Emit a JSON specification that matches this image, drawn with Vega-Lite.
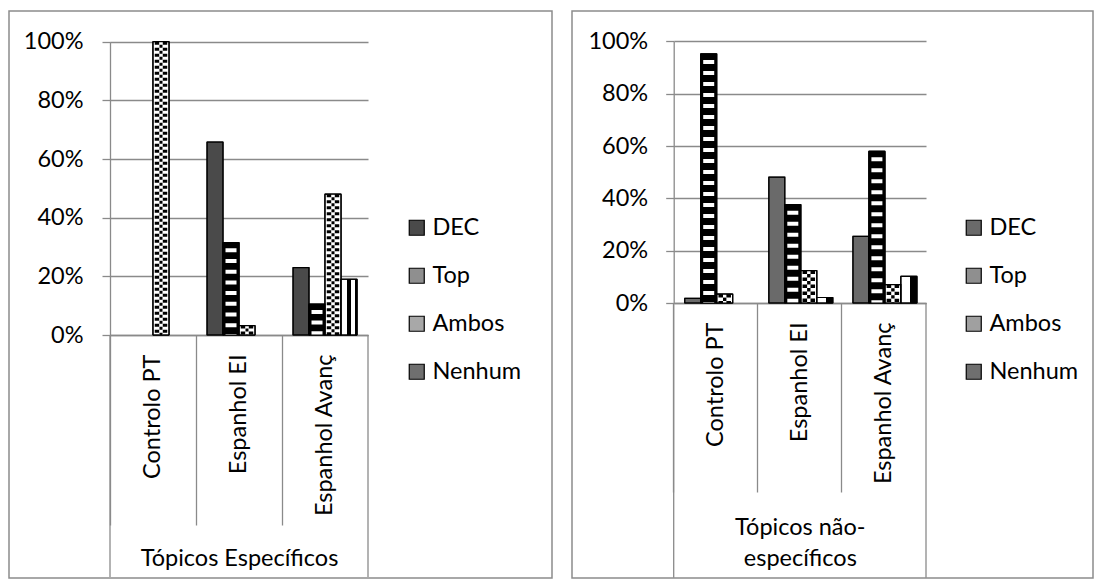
{
  "$schema": "https://vega.github.io/schema/vega-lite/v6.json",
  "background": "white",
  "padding": {"left": 8, "top": 10, "right": 0, "bottom": 0},
  "spacing": 18,
  "resolve": {"scale": {"color": "independent"}, "legend": {"color": "independent"}},
  "config": {
    "font": "Lato",
    "view": {"stroke": "#8c8c8c", "strokeWidth": 1.5}
  },
  "data": {"values": [
    {"panel": "esp", "cat": "Controlo PT", "series": "DEC", "value": 0},
    {"panel": "esp", "cat": "Controlo PT", "series": "Top", "value": 0},
    {"panel": "esp", "cat": "Controlo PT", "series": "Ambos", "value": 1.0},
    {"panel": "esp", "cat": "Controlo PT", "series": "Nenhum", "value": 0},
    {"panel": "esp", "cat": "Espanhol EI", "series": "DEC", "value": 0.658},
    {"panel": "esp", "cat": "Espanhol EI", "series": "Top", "value": 0.315},
    {"panel": "esp", "cat": "Espanhol EI", "series": "Ambos", "value": 0.032},
    {"panel": "esp", "cat": "Espanhol EI", "series": "Nenhum", "value": 0},
    {"panel": "esp", "cat": "Espanhol Avanç", "series": "DEC", "value": 0.23},
    {"panel": "esp", "cat": "Espanhol Avanç", "series": "Top", "value": 0.105},
    {"panel": "esp", "cat": "Espanhol Avanç", "series": "Ambos", "value": 0.48},
    {"panel": "esp", "cat": "Espanhol Avanç", "series": "Nenhum", "value": 0.19},
    {"panel": "nesp", "cat": "Controlo PT", "series": "DEC", "value": 0.018},
    {"panel": "nesp", "cat": "Controlo PT", "series": "Top", "value": 0.952},
    {"panel": "nesp", "cat": "Controlo PT", "series": "Ambos", "value": 0.034},
    {"panel": "nesp", "cat": "Controlo PT", "series": "Nenhum", "value": 0},
    {"panel": "nesp", "cat": "Espanhol EI", "series": "DEC", "value": 0.481},
    {"panel": "nesp", "cat": "Espanhol EI", "series": "Top", "value": 0.376},
    {"panel": "nesp", "cat": "Espanhol EI", "series": "Ambos", "value": 0.124},
    {"panel": "nesp", "cat": "Espanhol EI", "series": "Nenhum", "value": 0.021},
    {"panel": "nesp", "cat": "Espanhol Avanç", "series": "DEC", "value": 0.255},
    {"panel": "nesp", "cat": "Espanhol Avanç", "series": "Top", "value": 0.58},
    {"panel": "nesp", "cat": "Espanhol Avanç", "series": "Ambos", "value": 0.07},
    {"panel": "nesp", "cat": "Espanhol Avanç", "series": "Nenhum", "value": 0.102}
  ]},
  "hconcat": [
    {
      "width": 543,
      "height": 567,
      "transform": [{"filter": "datum.panel === 'esp'"}],
      "encoding": {
        "x": {"field": "cat", "type": "nominal", "sort": ["Controlo PT", "Espanhol EI", "Espanhol Avanç"],
          "scale": {"range": [101, 359], "paddingInner": 0, "paddingOuter": 0},
          "axis": {"orient": "bottom", "offset": -243, "bandPosition": 0, "tickSize": 190, "tickColor": "#8a8a8a", "tickWidth": 1.3,
            "domainColor": "#8a8a8a", "domainWidth": 1.3, "labelAngle": 270, "labelPadding": -171, "labelFontSize": 23.5,
            "labelColor": "black", "labelOverlap": false, "title": "Tópicos Específicos", "titleFontSize": 23.5,
            "titleFontWeight": "normal", "titleColor": "black", "titleY": 223.6, "titleBaseline": "middle", "grid": false}},
        "y": {"field": "value", "type": "quantitative", "stack": null,
          "scale": {"domain": [0, 1], "range": [324, 30.7], "nice": false, "zero": false},
          "axis": {"offset": -101, "values": [0, 0.2, 0.4, 0.6, 0.8, 1], "format": ".0%", "tickSize": 8, "tickColor": "#8a8a8a",
            "tickWidth": 1.3, "domainColor": "#8a8a8a", "domainWidth": 1.3, "gridColor": "#8a8a8a", "gridWidth": 1.3, "grid": true,
            "labelPadding": 19, "labelFontSize": 23.5, "labelColor": "black", "title": null}}
      },
      "layer": [
        {"transform": [{"filter": "datum.value > 0"}],
         "mark": {"type": "bar", "stroke": "black", "strokeWidth": 1},
         "encoding": {
           "xOffset": {"field": "series", "type": "nominal", "sort": ["DEC", "Top", "Ambos", "Nenhum"], "scale": {"domain": ["DEC", "Top", "Ambos", "Nenhum"], "paddingOuter": 0.69, "paddingInner": 0}},
           "color": {"field": "series", "type": "nominal", "scale": {"domain": ["DEC", "Top", "Ambos", "Nenhum"], "range": ["#4a4a4a", "#8f8f8f", "#a8a8a8", "#6f6f6f"]},
             "legend": {"orient": "none", "legendX": 396, "legendY": 205, "title": null, "symbolType": "square", "symbolSize": 225,
               "symbolStrokeColor": "black", "symbolStrokeWidth": 1.2, "labelFontSize": 23.5, "labelColor": "black", "labelOffset": 4, "rowPadding": 23, "padding": 0,
               "encode": {"symbols": {"update": {"stroke": {"value": "black"}, "strokeWidth": {"value": 1.2}}}}}}
         }},
        {"transform": [{"filter": "datum.value > 0 && datum.series === 'Top'"}],
         "mark": {"type": "bar", "fill": "black", "stroke": "black", "strokeWidth": 1},
         "encoding": {"xOffset": {"field": "series", "type": "nominal", "sort": ["DEC", "Top", "Ambos", "Nenhum"]}}},
        {"transform": [{"filter": "datum.value > 0 && datum.series === 'Top'"}],
         "mark": {"type": "rule", "color": "white", "strokeWidth": 11, "strokeDash": [4, 6.7], "strokeDashOffset": 5},
         "encoding": {"xOffset": {"field": "series", "type": "nominal", "sort": ["DEC", "Top", "Ambos", "Nenhum"]}, "y2": {"datum": 0}}},
        {"transform": [{"filter": "datum.value > 0 && datum.series === 'Ambos'"}],
         "mark": {"type": "bar", "fill": "white", "stroke": "black", "strokeWidth": 1},
         "encoding": {"xOffset": {"field": "series", "type": "nominal", "sort": ["DEC", "Top", "Ambos", "Nenhum"]}}},
        {"transform": [{"filter": "datum.value > 0 && datum.series === 'Ambos'"}],
         "mark": {"type": "rule", "color": "black", "strokeWidth": 12.5, "strokeDash": [3, 3]},
         "encoding": {"xOffset": {"field": "series", "type": "nominal", "sort": ["DEC", "Top", "Ambos", "Nenhum"]}, "y2": {"datum": 0}}},
        {"transform": [{"filter": "datum.value > 0 && datum.series === 'Ambos'"}],
         "mark": {"type": "rule", "color": "white", "strokeWidth": 3.6},
         "encoding": {"xOffset": {"field": "series", "type": "nominal", "sort": ["DEC", "Top", "Ambos", "Nenhum"]}, "y2": {"datum": 0}}},
        {"transform": [{"filter": "datum.value > 0 && datum.series === 'Ambos'"}],
         "mark": {"type": "rule", "color": "black", "strokeWidth": 3, "strokeDash": [3, 3], "strokeDashOffset": 3},
         "encoding": {"xOffset": {"field": "series", "type": "nominal", "sort": ["DEC", "Top", "Ambos", "Nenhum"]}, "y2": {"datum": 0}}},
        {"transform": [{"filter": "datum.value > 0 && datum.series === 'Nenhum'"}],
         "mark": {"type": "bar", "stroke": "black", "strokeWidth": 1,
           "fill": {"gradient": "linear", "x1": 0, "y1": 0, "x2": 1, "y2": 0, "stops": [
             {"offset": 0, "color": "white"}, {"offset": 0.36, "color": "white"}, {"offset": 0.36, "color": "black"},
             {"offset": 0.62, "color": "black"}, {"offset": 0.62, "color": "white"}, {"offset": 0.86, "color": "white"},
             {"offset": 0.86, "color": "black"}, {"offset": 1, "color": "black"}]}},
         "encoding": {"xOffset": {"field": "series", "type": "nominal", "sort": ["DEC", "Top", "Ambos", "Nenhum"]}}},
        {"transform": [{"filter": "datum.value > 0"}],
         "mark": {"type": "bar", "filled": false, "stroke": "black", "strokeWidth": 1.2},
         "encoding": {"xOffset": {"field": "series", "type": "nominal", "sort": ["DEC", "Top", "Ambos", "Nenhum"]}}},
        {"transform": [{"filter": "datum.cat === 'Controlo PT' && datum.series === 'DEC'"}],
         "mark": {"type": "rule", "color": "#8a8a8a", "strokeWidth": 1.3},
         "encoding": {"x": {"field": "cat", "type": "nominal", "sort": ["Controlo PT", "Espanhol EI", "Espanhol Avanç"], "bandPosition": 0},
           "y": {"datum": 0}, "y2": {"datum": -0.825}}},
        {"transform": [{"filter": "datum.cat === 'Espanhol Avanç' && datum.series === 'DEC'"}],
         "mark": {"type": "rule", "color": "#8a8a8a", "strokeWidth": 1.3},
         "encoding": {"x": {"field": "cat", "type": "nominal", "sort": ["Controlo PT", "Espanhol EI", "Espanhol Avanç"], "bandPosition": 1},
           "y": {"datum": 0}, "y2": {"datum": -0.825}}}
      ]
    },
    {
      "width": 521,
      "height": 567,
      "transform": [{"filter": "datum.panel === 'nesp'"}],
      "encoding": {
        "x": {"field": "cat", "type": "nominal", "sort": ["Controlo PT", "Espanhol EI", "Espanhol Avanç"],
          "scale": {"range": [101.7, 354], "paddingInner": 0, "paddingOuter": 0},
          "axis": {"orient": "bottom", "offset": -275, "bandPosition": 0, "tickSize": 189, "tickColor": "#8a8a8a", "tickWidth": 1.3,
            "domainColor": "#8a8a8a", "domainWidth": 1.3, "labelAngle": 270, "labelPadding": -170, "labelFontSize": 23.5,
            "labelColor": "black", "labelOverlap": false, "title": ["Tópicos não-", "específicos"], "titleFontSize": 23.5,
            "titleFontWeight": "normal", "titleColor": "black", "titleY": 224, "titleBaseline": "middle", "titleLineHeight": 31.6, "grid": false}},
        "y": {"field": "value", "type": "quantitative", "stack": null,
          "scale": {"domain": [0, 1], "range": [292, 30.4], "nice": false, "zero": false},
          "axis": {"offset": -101.7, "values": [0, 0.2, 0.4, 0.6, 0.8, 1], "format": ".0%", "tickSize": 8, "tickColor": "#8a8a8a",
            "tickWidth": 1.3, "domainColor": "#8a8a8a", "domainWidth": 1.3, "gridColor": "#8a8a8a", "gridWidth": 1.3, "grid": true,
            "labelPadding": 18, "labelFontSize": 23.5, "labelColor": "black", "title": null}}
      },
      "layer": [
        {"transform": [{"filter": "datum.value > 0"}],
         "mark": {"type": "bar", "stroke": "black", "strokeWidth": 1},
         "encoding": {
           "xOffset": {"field": "series", "type": "nominal", "sort": ["DEC", "Top", "Ambos", "Nenhum"], "scale": {"domain": ["DEC", "Top", "Ambos", "Nenhum"], "paddingOuter": 0.67, "paddingInner": 0}},
           "color": {"field": "series", "type": "nominal", "scale": {"domain": ["DEC", "Top", "Ambos", "Nenhum"], "range": ["#6a6a6a", "#8f8f8f", "#a0a0a0", "#6f6f6f"]},
             "legend": {"orient": "none", "legendX": 390, "legendY": 205, "title": null, "symbolType": "square", "symbolSize": 225,
               "symbolStrokeColor": "black", "symbolStrokeWidth": 1.2, "labelFontSize": 23.5, "labelColor": "black", "labelOffset": 4, "rowPadding": 23, "padding": 0,
               "encode": {"symbols": {"update": {"stroke": {"value": "black"}, "strokeWidth": {"value": 1.2}}}}}}
         }},
        {"transform": [{"filter": "datum.value > 0 && datum.series === 'Top'"}],
         "mark": {"type": "bar", "fill": "black", "stroke": "black", "strokeWidth": 1},
         "encoding": {"xOffset": {"field": "series", "type": "nominal", "sort": ["DEC", "Top", "Ambos", "Nenhum"]}}},
        {"transform": [{"filter": "datum.value > 0 && datum.series === 'Top'"}],
         "mark": {"type": "rule", "color": "white", "strokeWidth": 11, "strokeDash": [4, 7], "strokeDashOffset": 5},
         "encoding": {"xOffset": {"field": "series", "type": "nominal", "sort": ["DEC", "Top", "Ambos", "Nenhum"]}, "y2": {"datum": 0}}},
        {"transform": [{"filter": "datum.value > 0 && datum.series === 'Ambos'"}],
         "mark": {"type": "bar", "fill": "white", "stroke": "black", "strokeWidth": 1},
         "encoding": {"xOffset": {"field": "series", "type": "nominal", "sort": ["DEC", "Top", "Ambos", "Nenhum"]}}},
        {"transform": [{"filter": "datum.value > 0 && datum.series === 'Ambos'"}],
         "mark": {"type": "rule", "color": "black", "strokeWidth": 12.5, "strokeDash": [3.4, 3.6]},
         "encoding": {"xOffset": {"field": "series", "type": "nominal", "sort": ["DEC", "Top", "Ambos", "Nenhum"]}, "y2": {"datum": 0}}},
        {"transform": [{"filter": "datum.value > 0 && datum.series === 'Ambos'"}],
         "mark": {"type": "rule", "color": "white", "strokeWidth": 3.4},
         "encoding": {"xOffset": {"field": "series", "type": "nominal", "sort": ["DEC", "Top", "Ambos", "Nenhum"]}, "y2": {"datum": 0}}},
        {"transform": [{"filter": "datum.value > 0 && datum.series === 'Ambos'"}],
         "mark": {"type": "rule", "color": "black", "strokeWidth": 3.4, "strokeDash": [3.4, 3.6], "strokeDashOffset": 3.5},
         "encoding": {"xOffset": {"field": "series", "type": "nominal", "sort": ["DEC", "Top", "Ambos", "Nenhum"]}, "y2": {"datum": 0}}},
        {"transform": [{"filter": "datum.value > 0 && datum.series === 'Nenhum'"}],
         "mark": {"type": "bar", "stroke": "black", "strokeWidth": 1,
           "fill": {"gradient": "linear", "x1": 0, "y1": 0, "x2": 1, "y2": 0, "stops": [
             {"offset": 0, "color": "white"}, {"offset": 0.56, "color": "white"}, {"offset": 0.56, "color": "black"}, {"offset": 1, "color": "black"}]}},
         "encoding": {"xOffset": {"field": "series", "type": "nominal", "sort": ["DEC", "Top", "Ambos", "Nenhum"]}}},
        {"transform": [{"filter": "datum.value > 0"}],
         "mark": {"type": "bar", "filled": false, "stroke": "black", "strokeWidth": 1.2},
         "encoding": {"xOffset": {"field": "series", "type": "nominal", "sort": ["DEC", "Top", "Ambos", "Nenhum"]}}},
        {"transform": [{"filter": "datum.cat === 'Controlo PT' && datum.series === 'DEC'"}],
         "mark": {"type": "rule", "color": "#8a8a8a", "strokeWidth": 1.3},
         "encoding": {"x": {"field": "cat", "type": "nominal", "sort": ["Controlo PT", "Espanhol EI", "Espanhol Avanç"], "bandPosition": 0},
           "y": {"datum": 0}, "y2": {"datum": -1.05}}},
        {"transform": [{"filter": "datum.cat === 'Espanhol Avanç' && datum.series === 'DEC'"}],
         "mark": {"type": "rule", "color": "#8a8a8a", "strokeWidth": 1.3},
         "encoding": {"x": {"field": "cat", "type": "nominal", "sort": ["Controlo PT", "Espanhol EI", "Espanhol Avanç"], "bandPosition": 1},
           "y": {"datum": 0}, "y2": {"datum": -1.05}}}
      ]
    }
  ]
}
